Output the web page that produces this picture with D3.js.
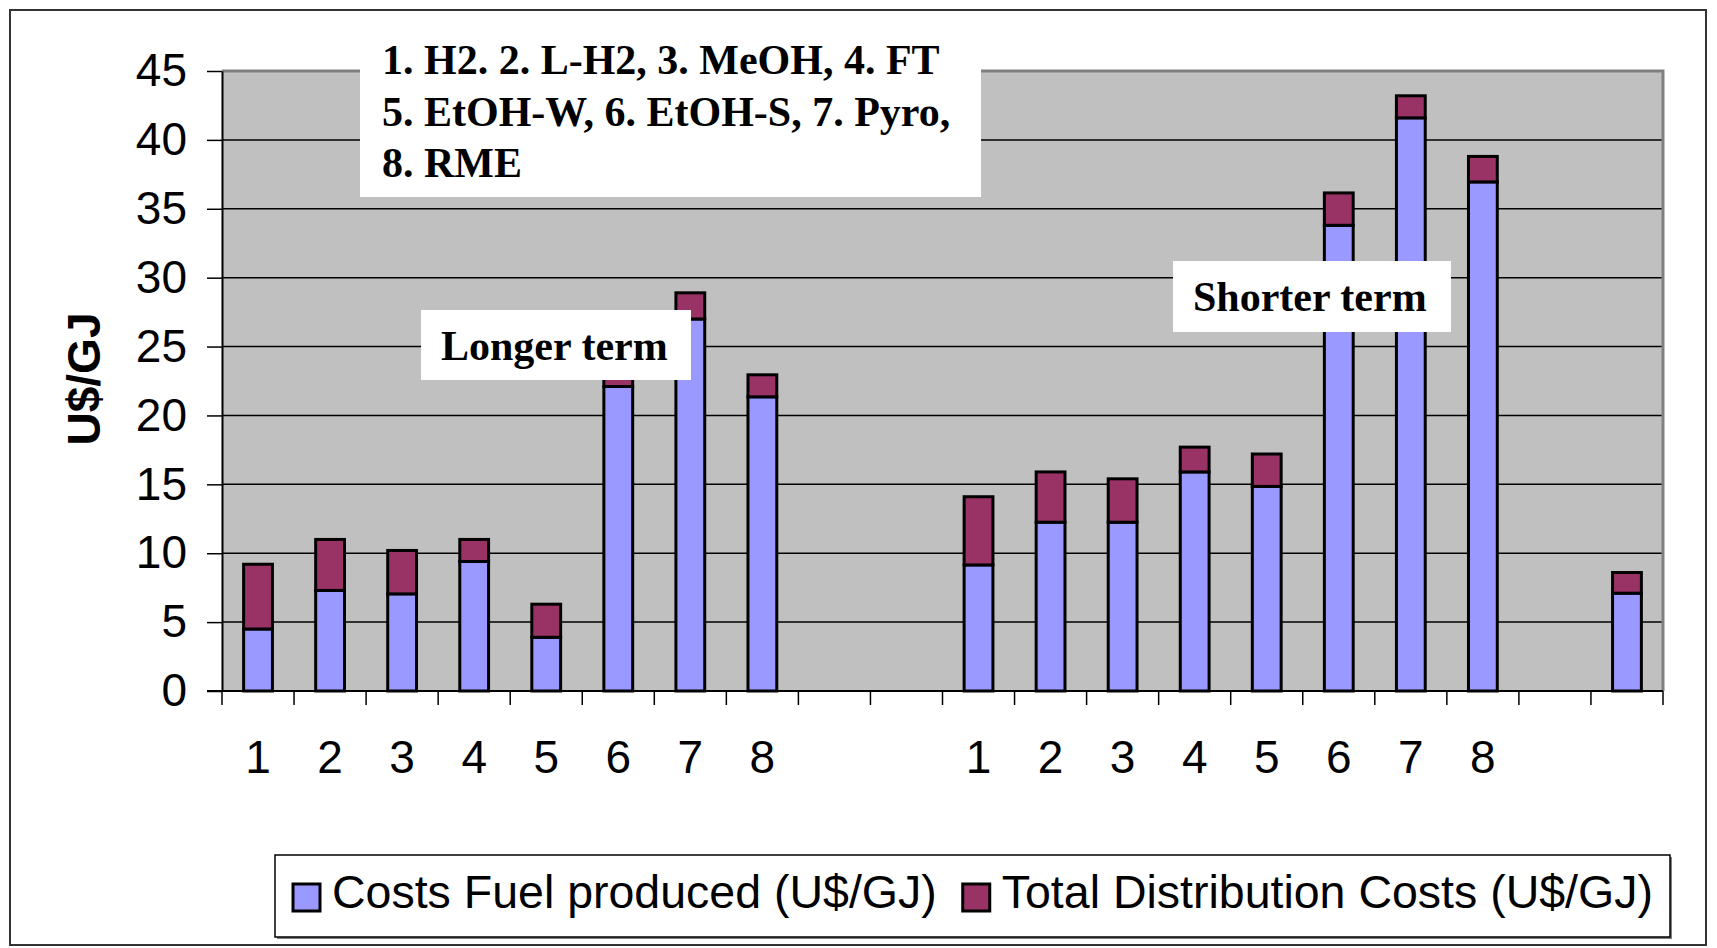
<!DOCTYPE html>
<html lang="en">
<head>
<meta charset="UTF-8">
<title>Fuel costs - longer and shorter term</title>
<script src="https://d3js.org/d3.v7.min.js"></script>
<style>
  body { margin: 0; background: #fff; }
  svg { display: block; }
  .axis-text { font-family: "Liberation Sans", Arial, sans-serif; font-size: 46px; fill: #000; }
  .legend-text { font-family: "Liberation Sans", Arial, sans-serif; font-size: 46.5px; fill: #000; }
  .note { font-family: "Liberation Serif", "Times New Roman", serif; font-size: 42px; font-weight: bold; fill: #000; }
</style>
</head>
<body>
<svg id="chart" width="1717" height="948"></svg>
<script>
// categories: 8 fuels (longer term), gap, 8 fuels (shorter term), gap, one extra bar
const categories = ["1", "2", "3", "4", "5", "6", "7", "8", "", "",
                    "1", "2", "3", "4", "5", "6", "7", "8", "", ""];
const fuelCosts = [4.5, 7.3, 7.05, 9.4, 3.9, 22.1, 27.0, 21.35, 0, 0,
                   9.15, 12.25, 12.25, 15.9, 14.85, 33.8, 41.6, 36.95, 0, 7.1];
const distributionCosts = [4.7, 3.7, 3.15, 1.6, 2.4, 1.5, 1.9, 1.6, 0, 0,
                           4.95, 3.65, 3.15, 1.8, 2.35, 2.35, 1.6, 1.85, 0, 1.5];
const yTicks = [0, 5, 10, 15, 20, 25, 30, 35, 40, 45];
const seriesNames = ["Costs Fuel produced (U$/GJ)", "Total Distribution Costs (U$/GJ)"];
const seriesColors = ["#9999FF", "#993366"];
const fuelNotes = ["1. H2. 2. L-H2, 3. MeOH, 4. FT", "5. EtOH-W, 6. EtOH-S, 7. Pyro,", "8. RME"];

const svg = d3.select("#chart");
const plot = { left: 222, right: 1663, top: 71, bottom: 691 };

// outer chart frame
svg.append("rect")
    .attr("x", 10).attr("y", 10)
    .attr("width", 1696).attr("height", 935)
    .attr("fill", "#fff").attr("stroke", "#333").attr("stroke-width", 2);

const x = d3.scaleBand()
    .domain(d3.range(categories.length))
    .range([plot.left, plot.right])
    .paddingInner(0.6)
    .paddingOuter(0.3);

const y = d3.scaleLinear()
    .domain([0, 45])
    .range([plot.bottom, plot.top]);

// plot area background
svg.append("rect")
    .attr("x", plot.left).attr("y", plot.top)
    .attr("width", plot.right - plot.left).attr("height", plot.bottom - plot.top)
    .attr("fill", "#C0C0C0");

// gridlines
svg.append("g")
    .selectAll("line")
    .data(yTicks.filter(d => d > 0 && d < 45))
    .join("line")
    .attr("x1", plot.left).attr("x2", plot.right)
    .attr("y1", d => y(d)).attr("y2", d => y(d))
    .attr("stroke", "#000").attr("stroke-width", 1.5);

// plot border (top / right in grey)
svg.append("path")
    .attr("d", `M${plot.left},${plot.top}H${plot.right}V${plot.bottom}`)
    .attr("fill", "none").attr("stroke", "#808080").attr("stroke-width", 3);

// stacked bars
const rows = categories.map((c, i) => ({ i: i, fuel: fuelCosts[i], dist: distributionCosts[i] }));
const stacked = d3.stack().keys(["fuel", "dist"])(rows);

svg.append("g")
    .selectAll("g")
    .data(stacked)
    .join("g")
    .attr("fill", (d, k) => seriesColors[k])
    .selectAll("rect")
    .data(d => d.filter(p => p[1] - p[0] > 0))
    .join("rect")
    .attr("x", d => x(d.data.i))
    .attr("width", x.bandwidth())
    .attr("y", d => y(d[1]))
    .attr("height", d => y(d[0]) - y(d[1]))
    .attr("stroke", "#000")
    .attr("stroke-width", 3);

// y axis
const yAxis = svg.append("g")
    .attr("transform", `translate(${plot.left},0)`)
    .call(d3.axisLeft(y).tickValues(yTicks).tickSize(15).tickSizeOuter(0).tickPadding(20));
yAxis.select(".domain").attr("stroke", "#000").attr("stroke-width", 2);
yAxis.selectAll(".tick line").attr("stroke", "#000").attr("stroke-width", 1.5);
yAxis.selectAll(".tick text")
    .attr("class", "axis-text")
    .attr("font-family", null).attr("font-size", null)
    .attr("dy", "0.32em");

// x axis: labels at band centres, ticks between categories
const xAxis = svg.append("g")
    .attr("transform", `translate(0,${plot.bottom})`)
    .call(d3.axisBottom(x).tickFormat(i => categories[i]).tickSize(0).tickPadding(49));
xAxis.select(".domain").remove();
xAxis.selectAll(".tick text")
    .attr("class", "axis-text")
    .attr("font-family", null).attr("font-size", null);

svg.append("line")
    .attr("x1", plot.left - 15).attr("x2", plot.right)
    .attr("y1", plot.bottom).attr("y2", plot.bottom)
    .attr("stroke", "#000").attr("stroke-width", 2);

svg.append("g")
    .selectAll("line")
    .data(d3.range(categories.length + 1))
    .join("line")
    .attr("x1", i => plot.left + i * x.step())
    .attr("x2", i => plot.left + i * x.step())
    .attr("y1", plot.bottom).attr("y2", plot.bottom + 14)
    .attr("stroke", "#000").attr("stroke-width", 1.5);

// y axis title
svg.append("text")
    .attr("transform", "translate(100,379) rotate(-90)")
    .attr("text-anchor", "middle")
    .attr("class", "axis-text")
    .attr("font-weight", "bold")
    .text("U$/GJ");

// annotation boxes
svg.append("rect")
    .attr("x", 360).attr("y", 20).attr("width", 621).attr("height", 177)
    .attr("fill", "#fff");
svg.append("g")
    .selectAll("text")
    .data(fuelNotes)
    .join("text")
    .attr("class", "note")
    .attr("x", 382)
    .attr("y", (d, i) => 74 + i * 51.5)
    .text(d => d);

svg.append("rect")
    .attr("x", 421).attr("y", 310).attr("width", 270).attr("height", 70)
    .attr("fill", "#fff");
svg.append("text")
    .attr("class", "note")
    .attr("x", 441).attr("y", 360)
    .text("Longer term");

svg.append("rect")
    .attr("x", 1173).attr("y", 261).attr("width", 278).attr("height", 71)
    .attr("fill", "#fff");
svg.append("text")
    .attr("class", "note")
    .attr("x", 1193).attr("y", 311)
    .text("Shorter term");

// legend
const legend = svg.append("g");
legend.append("rect")
    .attr("x", 277).attr("y", 857).attr("width", 1395).attr("height", 82)
    .attr("fill", "#808080");
legend.append("rect")
    .attr("x", 275).attr("y", 855).attr("width", 1395).attr("height", 82)
    .attr("fill", "#fff").attr("stroke", "#000").attr("stroke-width", 1.5);

let lx = 293;
seriesNames.forEach((name, k) => {
    legend.append("rect")
        .attr("x", lx).attr("y", 884).attr("width", 27).attr("height", 27)
        .attr("fill", seriesColors[k]).attr("stroke", "#000").attr("stroke-width", 3);
    const t = legend.append("text")
        .attr("class", "legend-text")
        .attr("x", lx + 39).attr("y", 908)
        .text(name);
    lx = lx + 39 + t.node().getComputedTextLength() + 26;
});
</script>
</body>
</html>
